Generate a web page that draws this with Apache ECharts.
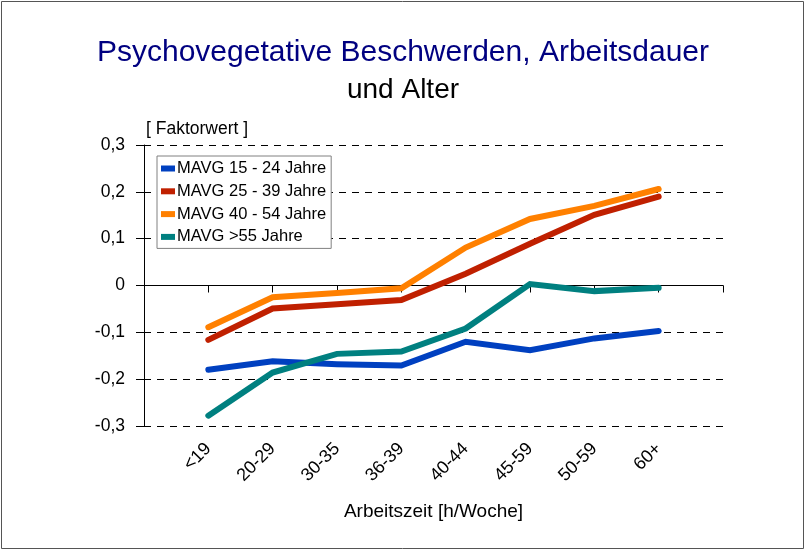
<!DOCTYPE html>
<html>
<head>
<meta charset="utf-8">
<script src="https://cdn.jsdelivr.net/npm/echarts@6/dist/echarts.min.js"></script>
<style>
html,body{margin:0;padding:0;background:#fff;}
#chart{width:806px;height:551px;}
</style>
</head>
<body>
<div id="chart"></div>
<script>
// Data
var categories = ["", "<19", "20-29", "30-35", "36-39", "40-44", "45-59", "50-59", "60+", ""];
var seriesNames = ["MAVG 15 - 24 Jahre", "MAVG 25 - 39 Jahre", "MAVG 40 - 54 Jahre", "MAVG >55 Jahre"];
var mavg15_24 = [-0.180, -0.162, -0.168, -0.171, -0.120, -0.138, -0.113, -0.097];
var mavg25_39 = [-0.116, -0.049, -0.040, -0.031, 0.025, 0.089, 0.151, 0.190];
var mavg40_54 = [-0.089, -0.025, -0.016, -0.006, 0.081, 0.142, 0.170, 0.206];
var mavg55 = [-0.278, -0.186, -0.146, -0.141, -0.092, 0.003, -0.012, -0.005];
var yTicks = [-0.3, -0.2, -0.1, 0, 0.1, 0.2, 0.3];
var colors = ["#0040C0", "#C02000", "#FF8000", "#008080"];

var FONT = "'Liberation Sans', Arial, sans-serif";
function pad(arr) { return ['-'].concat(arr).concat(['-']); }
var allValues = [mavg15_24, mavg25_39, mavg40_54, mavg55];

var chart = echarts.init(document.getElementById('chart'));
var series = allValues.map(function (vals, i) {
  var s = {
    name: seriesNames[i],
    type: 'line',
    data: pad(vals),
    showSymbol: false,
    symbol: 'none',
    connectNulls: false,
    lineStyle: { width: 6, color: colors[i], cap: 'round', join: 'miter' },
    itemStyle: { color: colors[i] },
    z: 3 + i
  };
  if (i === 0) {
    s.markLine = {
      silent: true,
      symbol: ['none', 'none'],
      label: { show: false },
      lineStyle: { color: '#000', type: 'solid', width: 1 },
      data: [{ yAxis: 0 }],
      z: 2
    };
  }
  return s;
});

chart.setOption({
  animation: false,
  backgroundColor: '#fff',
  textStyle: { fontFamily: FONT },
  title: [
    { text: 'Psychovegetative Beschwerden, Arbeitsdauer', left: 'center', top: 33,
      textStyle: { color: '#000080', fontSize: 30, fontWeight: 'normal', fontFamily: FONT } },
    { text: 'und Alter', left: 'center', top: 71,
      textStyle: { color: '#000', fontSize: 28, fontWeight: 'normal', fontFamily: FONT } }
  ],
  legend: {
    orient: 'vertical',
    left: 157, top: 156,
    padding: [4, 5, 3, 4],
    itemGap: 5.8,
    itemWidth: 14, itemHeight: 6,
    icon: 'rect',
    backgroundColor: '#fff',
    borderColor: '#808080', borderWidth: 1,
    z: 10,
    textStyle: { fontSize: 16.5, color: '#000', fontFamily: FONT, padding: [0, 0, 0, -3] },
    data: seriesNames
  },
  grid: { left: 144, right: 83, top: 145, bottom: 125, containLabel: false },
  xAxis: {
    type: 'category',
    data: categories,
    boundaryGap: false,
    name: 'Arbeitszeit [h/Woche]',
    nameLocation: 'middle',
    nameGap: 76,
    nameTextStyle: { fontSize: 19, color: '#000', fontFamily: FONT },
    axisLine: { lineStyle: { color: '#000', width: 1 } },
    axisTick: { show: true, interval: 0, length: 7, lineStyle: { color: '#000' } },
    axisLabel: { interval: 0, rotate: 45, fontSize: 18, color: '#000', margin: 20, fontFamily: FONT },
    splitLine: { show: false }
  },
  yAxis: [{
    type: 'value',
    min: yTicks[0], max: yTicks[yTicks.length - 1], interval: 0.1,
    axisLine: { show: true, lineStyle: { color: '#000', width: 1 } },
    axisTick: { show: true, length: 8, lineStyle: { color: '#000' } },
    axisLabel: {
      fontSize: 17.5, color: '#000', margin: 19, fontFamily: FONT,
      formatter: function (v) { var r = Math.round(v * 10) / 10; return r === 0 ? '0' : r.toFixed(1).replace('.', ','); }
    },
    splitLine: { show: true, lineStyle: { color: '#000', type: [7, 6], width: 1 } }
  }, {
    type: 'value', position: 'left',
    min: yTicks[0], max: yTicks[yTicks.length - 1], interval: 0.1,
    axisLine: { show: false },
    axisTick: { show: true, inside: true, length: 7, lineStyle: { color: '#000' } },
    axisLabel: { show: false },
    splitLine: { show: false }
  }],
  graphic: [
    { type: 'text', left: 146, top: 120, style: { text: '[ Faktorwert ]', fontSize: 17.5, fill: '#000', fontFamily: FONT } },
    { type: 'rect', shape: { x: 1.5, y: 1.5, width: 802, height: 547 }, style: { fill: 'none', stroke: '#555', lineWidth: 1 }, silent: true, z: 100 }
  ],
  series: series
});
</script>
</body>
</html>
